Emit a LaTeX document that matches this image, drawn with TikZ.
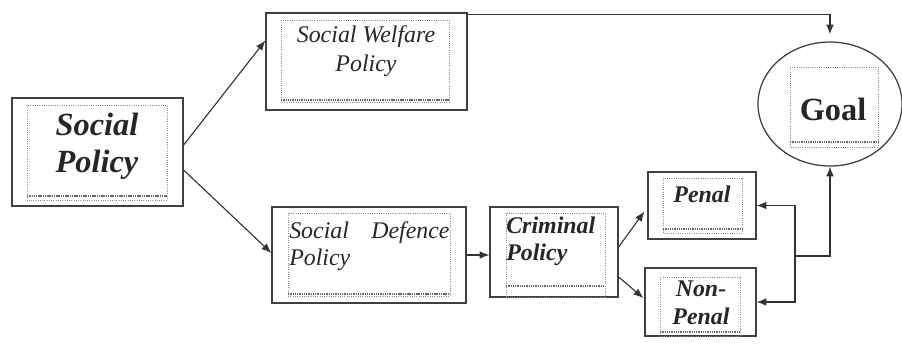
\documentclass[tikz,border=0pt]{standalone}
\usepackage{fontspec}
\setmainfont{Liberation Serif}
\usetikzlibrary{calc,fit,shapes.geometric,arrows.meta}

\tikzset{
  outer/.style={draw=black!75, line width=0.9pt, inner sep=0pt},
  inbox/.style={draw=black!45, densely dotted, line width=0.6pt},
  wave/.style={draw=black!60, line width=1.2pt, dash pattern=on 1pt off 0.6pt},
  lbl/.style={inner sep=0pt, text=black!85},
  arr/.style={-{Latex[length=7pt,width=5.5pt]}, draw=black!80, line width=0.8pt},
}

\begin{document}
\begin{tikzpicture}[x=0.025cm, y=-0.025cm]
\useasboundingbox (0,0) rectangle (902,345);

\node[outer, fit={(12,98) (183,206)}] (sp) {};
\node[outer, fit={(266,13) (467,110)}] (sw) {};
\node[outer, fit={(272,207) (466,303)}] (sd) {};
\node[outer, fit={(490,207) (618,297)}] (cp) {};
\node[outer, fit={(648,172) (756,239)}] (pe) {};
\node[outer, fit={(645,268) (756,336)}] (np) {};
\node[outer, ellipse, minimum width=144*0.025cm, minimum height=124*0.025cm] (goal) at (830,104) {};

\draw[inbox] (27,105) rectangle (167,200);
\draw[wave] (27,196) -- (167,196);
\draw[inbox] (281,20) rectangle (449,102);
\draw[wave] (281,100) -- (449,100);
\draw[inbox] (288,213) rectangle (450,296);
\draw[wave] (288,294) -- (450,294);
\draw[inbox] (506,213) rectangle (605,297);
\draw[wave] (506,286) -- (605,286);
\draw[inbox] (663,178) rectangle (742,233);
\draw[wave] (663,229) -- (742,229);
\draw[inbox] (660,277) rectangle (740,336);
\draw[wave] (660,332) -- (740,332);
\draw[inbox] (790,67) rectangle (878,147);
\draw[wave] (790,142) -- (878,142);

\node[lbl, font={\fontsize{23}{26}\selectfont\bfseries\itshape}, align=center] (sptxt) at (97,146) {Social\\Policy};
\node[lbl, font={\fontsize{17}{21}\selectfont\itshape}, align=center] (swtxt) at (366,51) {Social Welfare\\Policy};
\node[lbl, font={\fontsize{17}{19}\selectfont\itshape}, text width=114pt, align=left, anchor=west] (sdtxt) at (289,246) {Social\hfill Defence\\Policy};
\node[lbl, font={\fontsize{17}{19}\selectfont\bfseries\itshape}, align=left, anchor=west] (cptxt) at (506,241) {Criminal\\Policy};
\node[lbl, font={\fontsize{17}{20}\selectfont\bfseries\itshape}, anchor=base] (petxt) at (702,202) {Penal};
\node[lbl, font={\fontsize{17}{20}\selectfont\bfseries\itshape}, align=center] (nptxt) at (701,303) {Non-\\Penal};
\node[lbl, font={\fontsize{23}{26}\selectfont\bfseries}, anchor=base] (goaltxt) at (833,120) {Goal};

\coordinate (fb) at (795,256);
\draw[arr] ($(sp.east)+(0,-7)$) -- ($(sw.west)+(0,-21)$);
\draw[arr] ($(sp.east)+(0,18)$) -- ($(sd.west)+(0,-2)$);
\draw[arr, shorten >=5pt] ($(sw.north east)+(0,2)$) -| (goal.north);
\draw[arr] (sd.east) -- (sd.east -| cp.west);
\draw[arr] ($(cp.east)+(0,-5)$) -- ($(pe.west)+(-3,6)$);
\draw[arr] ($(cp.east)+(0,25)$) -- ($(np.west)+(-1,-4)$);
\draw[arr] (fb) -| (goal.south);
\draw[arr] (fb) |- (pe.east);
\draw[arr] (fb) |- (np.east);

\end{tikzpicture}
\end{document}
